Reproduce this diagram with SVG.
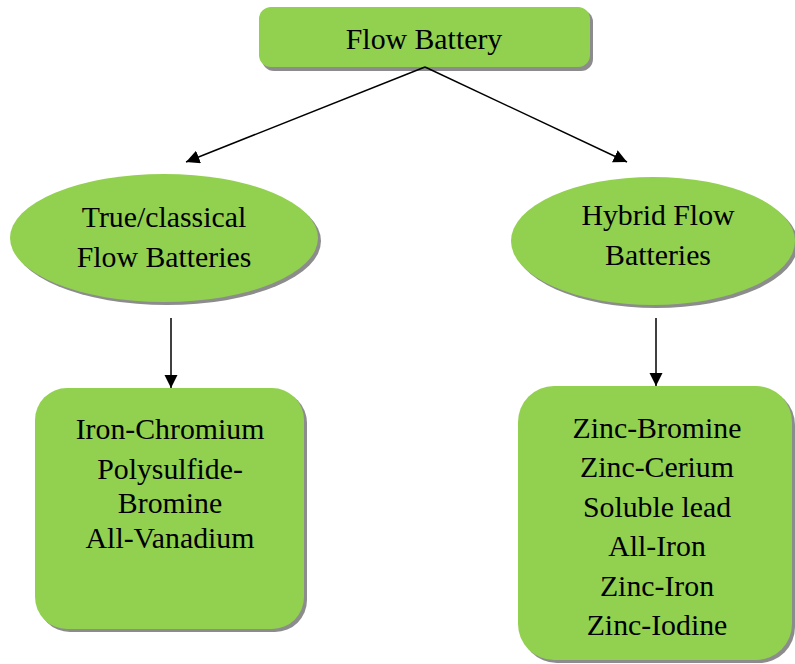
<svg xmlns="http://www.w3.org/2000/svg" width="795" height="664" viewBox="0 0 795 664">
<defs>
<style>
.n{fill:#92D050;}
.s{fill:#8c8c8c;}
text{font-family:'Liberation Serif','Times New Roman',Times,serif;font-size:29.8px;fill:#000;text-anchor:middle;}
</style>
<marker id="b" viewBox="0 0 10 10" refX="10" refY="5" markerWidth="9" markerHeight="9" orient="auto">
<path d="M0,0 L10,5 L0,10 z" fill="#000"/>
</marker>
</defs>
<rect width="795" height="664" fill="#fff"/>
<g id="flow-battery">
<rect class="s" x="262" y="10" width="331" height="61" rx="12"/>
<rect class="n" x="259" y="7" width="331" height="60" rx="12"/>
<text x="424" y="49">Flow Battery</text>
</g>
<g id="true-classical">
<ellipse class="s" cx="167" cy="241" rx="154" ry="64"/>
<ellipse class="n" cx="164" cy="238" rx="154" ry="64"/>
<text x="164" y="227">True/classical</text>
<text x="164" y="267">Flow Batteries</text>
</g>
<g id="hybrid">
<ellipse class="s" cx="656" cy="244" rx="142" ry="64"/>
<ellipse class="n" cx="653" cy="241" rx="142" ry="64"/>
<text x="658" y="225">Hybrid Flow</text>
<text x="658" y="265">Batteries</text>
</g>
<g id="true-list">
<rect class="s" x="38" y="391" width="269" height="241" rx="32"/>
<rect class="n" x="35" y="388" width="269" height="241" rx="32"/>
<text x="170" y="439">Iron-Chromium</text>
<text x="170" y="479">Polysulfide-</text>
<text x="170" y="513">Bromine</text>
<text x="170" y="548">All-Vanadium</text>
</g>
<g id="hybrid-list">
<rect class="s" x="521" y="389" width="274" height="274" rx="36"/>
<rect class="n" x="518" y="386" width="274" height="274" rx="36"/>
<text x="657" y="438">Zinc-Bromine</text>
<text x="657" y="477">Zinc-Cerium</text>
<text x="657" y="517">Soluble lead</text>
<text x="657" y="556">All-Iron</text>
<text x="657" y="596">Zinc-Iron</text>
<text x="657" y="635">Zinc-Iodine</text>
</g>
<g id="connectors" stroke="#000" stroke-width="1.5">
<line x1="425" y1="67" x2="186" y2="162" marker-end="url(#b)"/>
<line x1="425" y1="67" x2="627" y2="162" marker-end="url(#b)"/>
<line x1="171" y1="318" x2="171" y2="388" marker-end="url(#b)"/>
<line x1="656" y1="318" x2="656" y2="386" marker-end="url(#b)"/>
</g>
</svg>
